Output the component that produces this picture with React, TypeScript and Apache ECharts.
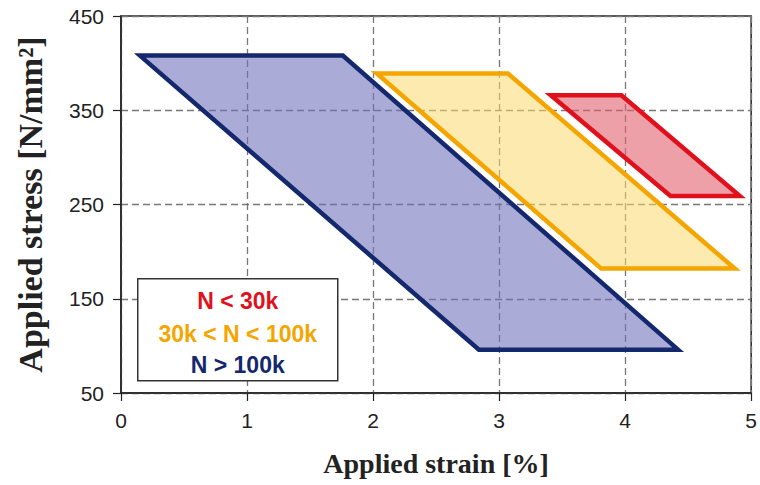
import React, { useEffect, useRef } from "react";
import * as echarts from "echarts";

// Fatigue regions: vertices as [applied strain %, applied stress N/mm²]
const regionNames = ["N > 100k", "30k < N < 100k", "N < 30k"];
const highCycle: number[][] = [
  [0.15, 408],
  [1.76, 408],
  [4.42, 96],
  [2.84, 96],
];
const midCycle: number[][] = [
  [2.03, 389],
  [3.07, 389],
  [4.87, 182],
  [3.81, 182],
];
const lowCycle: number[][] = [
  [3.41, 366],
  [3.97, 366],
  [4.91, 259],
  [4.36, 259],
];

const strainTicks = [0, 5];
const stressTicks = [50, 450];

const strokeColors = ["#14286e", "#f5a500", "#e0111c"];
const fillColors = [
  "rgba(113,115,187,0.6)",
  "rgba(252,216,108,0.55)",
  "rgba(226,96,112,0.6)",
];

function regionSeries(name: string, pts: number[][], idx: number) {
  return {
    type: "custom",
    name,
    data: pts,
    encode: { x: 0, y: 1 },
    z: 2 + idx,
    renderItem: (params: any, api: any) => {
      if (params.dataIndex !== 0) return null;
      const points = pts.map((p) => api.coord(p));
      return {
        type: "polygon",
        shape: { points },
        style: {
          fill: fillColors[idx],
          stroke: strokeColors[idx],
          lineWidth: 4.5,
          lineJoin: "miter",
          miterLimit: 20,
        },
      };
    },
  };
}

export default function App() {
  const ref = useRef<HTMLDivElement>(null);

  useEffect(() => {
    if (!ref.current) return;
    const chart = echarts.init(ref.current, null, { renderer: "svg" });
    const axisFont = "'Liberation Sans', Arial, sans-serif";
    const titleFont = "'Liberation Serif', 'Times New Roman', serif";
    const legendText = (text: string, color: string, y: number) => ({
      type: "text",
      z: 102,
      x: 100,
      y,
      style: {
        text,
        fill: color,
        font: `bold 23px ${axisFont}`,
        align: "center",
        verticalAlign: "middle",
      },
    });
    chart.setOption({
      animation: false,
      backgroundColor: "#ffffff",
      grid: {
        left: 121,
        right: 6,
        top: 16,
        bottom: 92,
        show: true,
        borderColor: "#222",
        borderWidth: 1.5,
        backgroundColor: "transparent",
      },
      xAxis: {
        type: "value",
        min: strainTicks[0],
        max: strainTicks[1],
        interval: 1,
        name: "Applied strain [%]",
        nameLocation: "middle",
        nameGap: 56,
        nameTextStyle: {
          fontFamily: titleFont,
          fontWeight: "bold",
          fontSize: 28,
          color: "#222",
        },
        axisLine: { show: true, lineStyle: { color: "#222", width: 1.5 } },
        axisTick: { show: true, length: 8, lineStyle: { color: "#222", width: 1.2 } },
        axisLabel: {
          margin: 17,
          fontFamily: axisFont,
          fontSize: 21,
          color: "#222",
        },
        splitLine: {
          show: true,
          lineStyle: { color: "#777", width: 1.3, type: [7, 4] },
        },
      },
      yAxis: {
        type: "value",
        min: stressTicks[0],
        max: stressTicks[1],
        interval: 100,
        name: "Applied stress [N/mm²]",
        nameLocation: "middle",
        nameGap: 74,
        nameTextStyle: {
          fontFamily: titleFont,
          fontWeight: "bold",
          fontSize: 34,
          color: "#222",
        },
        axisLine: { show: true, lineStyle: { color: "#222", width: 1.5 } },
        axisTick: { show: true, length: 8, lineStyle: { color: "#222", width: 1.2 } },
        axisLabel: {
          margin: 17,
          fontFamily: axisFont,
          fontSize: 21,
          color: "#222",
        },
        splitLine: {
          show: true,
          lineStyle: { color: "#777", width: 1.3, type: [7, 4] },
        },
      },
      series: [
        regionSeries(regionNames[0], highCycle, 0),
        regionSeries(regionNames[1], midCycle, 1),
        regionSeries(regionNames[2], lowCycle, 2),
      ],
      graphic: [
        {
          type: "group",
          left: 137,
          top: 278,
          z: 100,
          children: [
            {
              type: "rect",
              z: 101,
              shape: { x: 0, y: 0, width: 200, height: 102 },
              style: { fill: "#ffffff", stroke: "#333", lineWidth: 1.5 },
            },
            legendText(regionNames[2], strokeColors[2], 22),
            legendText(regionNames[1], strokeColors[1], 55),
            legendText(regionNames[0], strokeColors[0], 86),
          ],
        },
      ],
    });
    return () => chart.dispose();
  }, []);

  return (
    <div
      ref={ref}
      style={{ position: "fixed", left: 0, top: 0, width: 760, height: 485 }}
    />
  );
}
